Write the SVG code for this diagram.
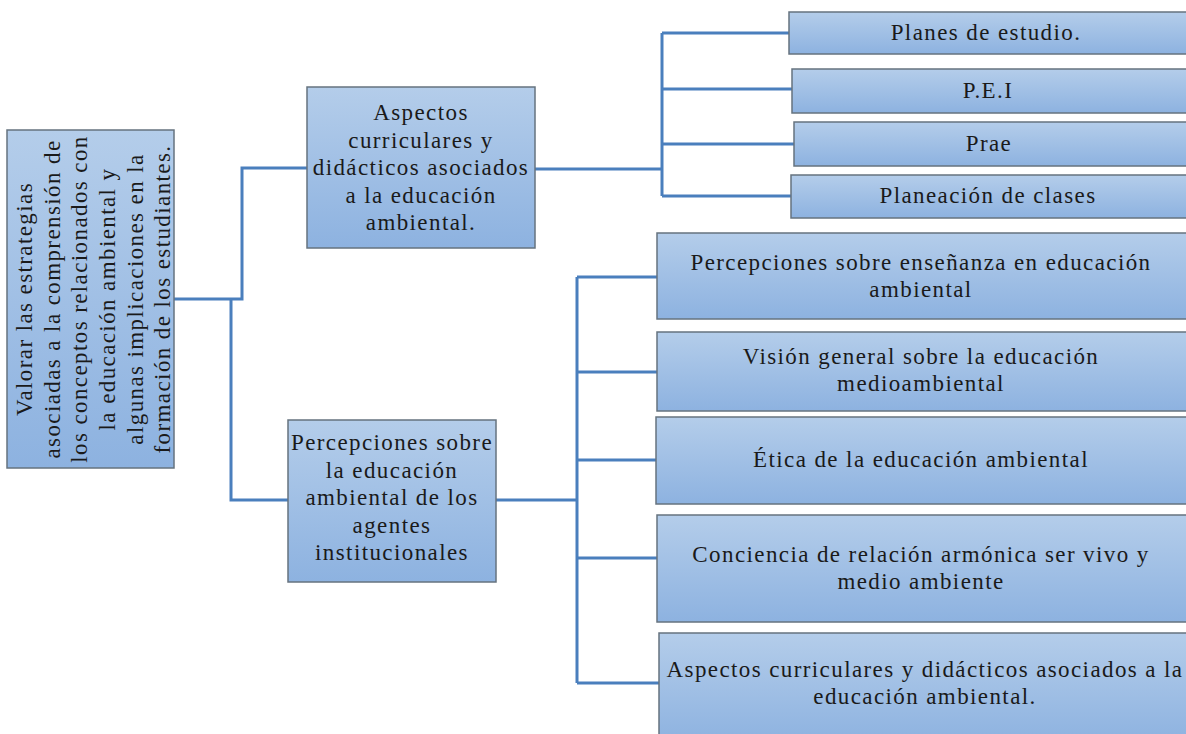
<svg xmlns="http://www.w3.org/2000/svg" width="1186" height="734" viewBox="0 0 1186 734">
  <defs>
    <linearGradient id="boxGrad" x1="0" y1="0" x2="0" y2="1">
      <stop offset="0" stop-color="#b4cdea"/>
      <stop offset="1" stop-color="#8db2e0"/>
    </linearGradient>
    <style>
      .box { fill: url(#boxGrad); stroke: #66737f; stroke-width: 1.5; }
      .conn { fill: none; stroke: #4a7fbd; stroke-width: 3; }
      .t { font-family: "Liberation Serif", "Times New Roman", serif; font-size: 23px; letter-spacing: 1.4px; fill: #1a1a1a; text-anchor: middle; }
    </style>
  </defs>
  <rect x="0" y="0" width="1186" height="734" fill="#ffffff"/>

  <g id="connectors">
    <path class="conn" d="M174,299 H242 V168 H307"/>
    <path class="conn" d="M231,299 V500 H288"/>
    <path class="conn" d="M535,169 H662"/>
    <path class="conn" d="M662,33 V196"/>
    <path class="conn" d="M662,33 H789"/>
    <path class="conn" d="M662,89 H792"/>
    <path class="conn" d="M662,144 H794"/>
    <path class="conn" d="M662,196 H791"/>
    <path class="conn" d="M496,500 H577"/>
    <path class="conn" d="M577,277 V683"/>
    <path class="conn" d="M577,277 H657"/>
    <path class="conn" d="M577,372 H657"/>
    <path class="conn" d="M577,460 H656"/>
    <path class="conn" d="M577,558 H657"/>
    <path class="conn" d="M577,683 H659"/>
  </g>

  <g id="root">
    <rect class="box" x="7" y="130" width="167" height="338"/>
    <g transform="translate(0,299) rotate(-90)">
      <text class="t" x="0" y="32">Valorar las estrategias</text>
      <text class="t" x="0" y="60">asociadas a la comprensión de</text>
      <text class="t" x="0" y="87">los conceptos relacionados con</text>
      <text class="t" x="0" y="115">la educación ambiental y</text>
      <text class="t" x="0" y="143">algunas implicaciones en la</text>
      <text class="t" x="0" y="170">formación de los estudiantes.</text>
    </g>
  </g>

  <g id="aspectos">
    <rect class="box" x="307" y="87" width="228" height="161"/>
    <text class="t" x="421" y="120">Aspectos</text>
    <text class="t" x="421" y="147.5">curriculares y</text>
    <text class="t" x="421" y="175">didácticos asociados</text>
    <text class="t" x="421" y="202.5">a la educación</text>
    <text class="t" x="421" y="230">ambiental.</text>
  </g>

  <g id="percepciones">
    <rect class="box" x="288" y="420" width="208" height="162"/>
    <text class="t" x="392" y="450">Percepciones sobre</text>
    <text class="t" x="392" y="477.5">la educación</text>
    <text class="t" x="392" y="505">ambiental de los</text>
    <text class="t" x="392" y="532.5">agentes</text>
    <text class="t" x="392" y="560">institucionales</text>
  </g>

  <g id="planes">
    <rect class="box" x="789" y="12" width="400" height="42"/>
    <text class="t" x="986" y="40">Planes de estudio.</text>
  </g>
  <g id="pei">
    <rect class="box" x="792" y="69" width="400" height="44"/>
    <text class="t" x="988" y="98">P.E.I</text>
  </g>
  <g id="prae">
    <rect class="box" x="794" y="122" width="400" height="44"/>
    <text class="t" x="989" y="151">Prae</text>
  </g>
  <g id="planeacion">
    <rect class="box" x="791" y="175" width="400" height="43"/>
    <text class="t" x="988" y="203">Planeación de clases</text>
  </g>

  <g id="ensenanza">
    <rect class="box" x="657" y="233" width="534" height="86"/>
    <text class="t" x="921" y="270">Percepciones sobre enseñanza en educación</text>
    <text class="t" x="921" y="297">ambiental</text>
  </g>
  <g id="vision">
    <rect class="box" x="657" y="332" width="534" height="79"/>
    <text class="t" x="921" y="364">Visión general sobre la educación</text>
    <text class="t" x="921" y="391">medioambiental</text>
  </g>
  <g id="etica">
    <rect class="box" x="656" y="417" width="535" height="87"/>
    <text class="t" x="921" y="467">Ética de la educación ambiental</text>
  </g>
  <g id="conciencia">
    <rect class="box" x="657" y="515" width="534" height="107"/>
    <text class="t" x="921" y="562">Conciencia de relación armónica ser vivo y</text>
    <text class="t" x="921" y="589">medio ambiente</text>
  </g>
  <g id="aspectos2">
    <rect class="box" x="659" y="633" width="532" height="110"/>
    <text class="t" x="925" y="677">Aspectos curriculares y didácticos asociados a la</text>
    <text class="t" x="925" y="704">educación ambiental.</text>
  </g>
</svg>
